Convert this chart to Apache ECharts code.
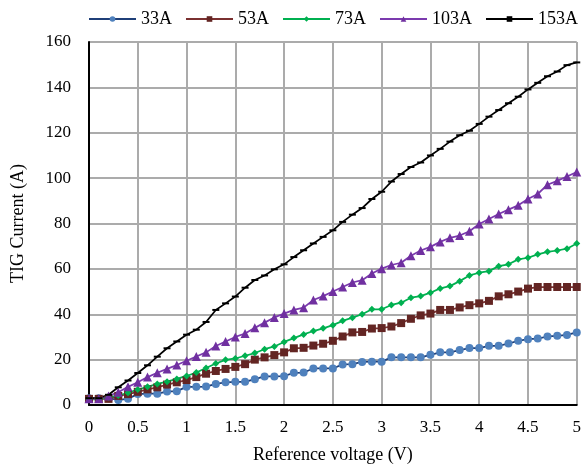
<!DOCTYPE html>
<html>
<head>
<meta charset="utf-8">
<script src="https://cdn.jsdelivr.net/npm/echarts@6/dist/echarts.min.js"></script>
<style>
  html, body { margin: 0; padding: 0; background: #fff; }
  #chart { width: 584px; height: 469px; }
</style>
</head>
<body>
<div id="chart"></div>
<script>
// Reference voltage steps (V)
const voltage = [0, 0.1, 0.2, 0.3, 0.4, 0.5, 0.6, 0.7, 0.8, 0.9,
  1, 1.1, 1.2, 1.3, 1.4, 1.5, 1.6, 1.7, 1.8, 1.9,
  2, 2.1, 2.2, 2.3, 2.4, 2.5, 2.6, 2.7, 2.8, 2.9,
  3, 3.1, 3.2, 3.3, 3.4, 3.5, 3.6, 3.7, 3.8, 3.9,
  4, 4.1, 4.2, 4.3, 4.4, 4.5, 4.6, 4.7, 4.8, 4.9, 5];

// Measured TIG current (A) for each set current
const current33A = [3, 3, 3, 2.2, 2.8, 4.8, 5, 5, 5.9, 6.1,
  8, 8, 8.1, 9.3, 10, 10.2, 10.2, 11.4, 12.6, 12.6,
  12.7, 14.2, 14.3, 16.1, 16.1, 16.1, 17.9, 18, 19, 19.1,
  19.1, 21, 21, 21, 21, 22.1, 23.2, 23.2, 24.2, 25.1,
  25.1, 26.1, 26.1, 27.1, 28.3, 29, 29.3, 30.2, 30.5, 30.9, 32];

const current53A = [2.7, 2.7, 2.7, 4, 4.8, 5.8, 6.9, 7.8, 9, 10,
  11, 12.3, 13.8, 15, 15.9, 16.8, 18, 20, 21, 22,
  23.2, 25, 25.2, 26.2, 27, 28.3, 30.2, 32, 32.2, 33.7,
  33.9, 34.6, 36.1, 38, 39.5, 40.3, 41.9, 41.9, 43, 44,
  44.8, 45.9, 47.9, 48.8, 50, 51.3, 52, 52, 52, 52, 52];

const current73A = [2.5, 2.5, 3.4, 4.2, 5.4, 6.8, 8, 9.3, 10.3, 11.5,
  12.8, 14.3, 16.3, 18.3, 19.9, 20.5, 21.7, 22.9, 24.6, 25.8,
  27.8, 29.5, 31.1, 32.6, 33.8, 35.2, 37.1, 38.5, 40, 42.2,
  42.2, 44.1, 45.1, 47.3, 48, 49.5, 51.4, 52.4, 54.6, 57.1,
  58.3, 59, 61.2, 62, 64.2, 64.9, 66.4, 67.5, 68.1, 68.9, 71.2];

const current103A = [2.7, 2.7, 4, 5.6, 8, 10, 12.3, 14.2, 15.9, 17.6,
  19.5, 21.4, 23.2, 26, 28, 30, 31.5, 34, 36.3, 38.6,
  40.3, 41.9, 42.9, 46.3, 48, 50, 52, 54, 55, 58,
  60.1, 61.7, 62.7, 65.8, 68.1, 69.7, 71.9, 73.7, 74.7, 76.6,
  79.8, 82, 84.2, 86.1, 88, 90.8, 93, 97.1, 98.8, 100.7, 102.7];

const current153A = [3, 3, 4.5, 7.8, 10.8, 14.1, 17.5, 21.3, 25, 28,
  31, 33.2, 36.6, 41.9, 44.8, 47.8, 51.7, 55.1, 57.1, 59.8,
  62, 65.2, 68.2, 71.2, 74.1, 77, 80.7, 83.9, 86.8, 90.8,
  94, 98.5, 101.8, 104.9, 106.9, 110, 112.9, 116.1, 118.9, 120.9,
  123.9, 127.1, 130, 133, 135.9, 139.1, 142, 144.9, 147, 149.8, 151];

const seriesNames = ['33A', '53A', '73A', '103A', '153A'];

const FONT = "'Liberation Serif', 'Times New Roman', serif";

function pairs(values) {
  return voltage.map((v, i) => [v, values[i]]);
}

// Per-series styling: line colour, marker colour, marker shape and size
const styles = [
  { line: '#1F3F78', marker: '#4F81BD', symbol: 'circle', size: 8, width: 1.75 },
  { line: '#7A3030', marker: '#632523', symbol: 'rect', size: 8, width: 1.75 },
  { line: '#00B050', marker: '#00B050', symbol: 'diamond', size: 7, width: 1.75 },
  { line: '#7B3AAE', marker: '#7030A0', symbol: 'triangle', size: 9, width: 1.75 },
  { line: '#000000', marker: '#000000', symbol: 'rect', size: [7, 2], width: 1.75 }
];

const dataSets = [current33A, current53A, current73A, current103A, current153A];

const series = dataSets.map((vals, k) => ({
  name: seriesNames[k],
  type: 'line',
  data: pairs(vals),
  symbol: styles[k].symbol,
  symbolSize: styles[k].size,
  showAllSymbol: true,
  lineStyle: { color: styles[k].line, width: styles[k].width },
  itemStyle: { color: styles[k].marker, borderWidth: 0 },
  emphasis: { disabled: true },
  animation: false
}));

const chart = echarts.init(document.getElementById('chart'), null, { renderer: 'canvas' });

chart.setOption({
  backgroundColor: '#ffffff',
  animation: false,
  textStyle: { fontFamily: FONT },
  legend: {
    data: seriesNames.map((n) => ({ name: n })),
    left: 83,
    top: 5,
    itemWidth: 47,
    itemHeight: 7,
    itemGap: 13,
    textStyle: { fontFamily: FONT, fontSize: 18, color: '#000' }
  },
  grid: { left: 89, right: 4, top: 42, bottom: 63 },
  xAxis: {
    type: 'value',
    min: 0,
    max: 5,
    interval: 0.5,
    name: 'Reference voltage (V)',
    nameLocation: 'middle',
    nameGap: 41,
    nameTextStyle: { fontFamily: FONT, fontSize: 18, color: '#000' },
    axisLine: { show: true, onZero: false, lineStyle: { color: '#000', width: 2 } },
    axisTick: { show: false },
    axisLabel: { fontFamily: FONT, fontSize: 17, color: '#000', margin: 14 },
    splitLine: { show: true, lineStyle: { color: '#ABABAB', width: 2 } }
  },
  yAxis: {
    type: 'value',
    min: 0,
    max: 160,
    interval: 20,
    name: 'TIG Current (A)',
    nameLocation: 'middle',
    nameGap: 62,
    nameTextStyle: { fontFamily: FONT, fontSize: 18, color: '#000' },
    axisLine: { show: true, onZero: false, lineStyle: { color: '#000', width: 2 } },
    axisTick: { show: false },
    axisLabel: { fontFamily: FONT, fontSize: 17, color: '#000', margin: 18 },
    splitLine: { show: true, lineStyle: { color: '#ABABAB', width: 2 } }
  },
  series: series
});
</script>
</body>
</html>
